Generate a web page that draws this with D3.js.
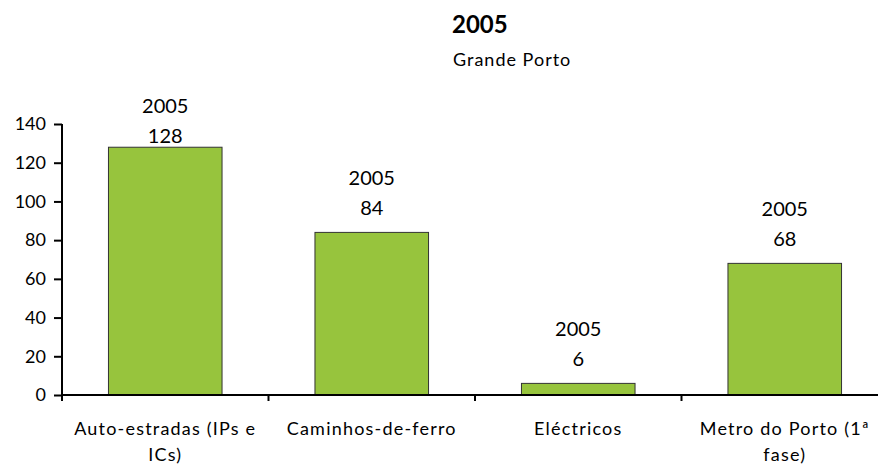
<!DOCTYPE html>
<html>
<head>
<meta charset="utf-8">
<script src="https://cdn.jsdelivr.net/npm/d3@7"></script>
<style>
  html, body { margin: 0; padding: 0; background: #fff; }
  svg { display: block; font-family: Lato, "Open Sans", sans-serif; }
</style>
</head>
<body>
<svg id="chart" width="878" height="466"></svg>
<script>
// Extensão das redes de transporte, Grande Porto, 2005
const categories = ["Auto-estradas (IPs e ICs)", "Caminhos-de-ferro", "Eléctricos", "Metro do Porto (1ª fase)"];
const values = [128, 84, 6, 68];
const seriesName = "2005";
const yTicks = [0, 20, 40, 60, 80, 100, 120, 140];
const title = "2005";
const subtitle = "Grande Porto";

const svg = d3.select("#chart");
const plotLeft = 62, plotRight = 888, plotTop = 124, plotBottom = 395;

const x = d3.scaleBand().domain(categories).range([plotLeft, plotRight])
  .paddingInner(0.45).paddingOuter(0.225);
const y = d3.scaleLinear().domain([0, 140]).range([plotBottom, plotTop]);

// title block
svg.append("text").attr("x", 452).attr("y", 33)
  .attr("font-size", 24).attr("font-weight", "bold").attr("fill", "#000")
  .text(title);
svg.append("text").attr("x", 453).attr("y", 66)
  .attr("font-size", 18).attr("letter-spacing", 1).attr("fill", "#000")
  .text(subtitle);

// bars
svg.append("g").selectAll("rect").data(values).join("rect")
  .attr("x", (d, i) => x(categories[i]))
  .attr("y", d => y(d))
  .attr("width", x.bandwidth())
  .attr("height", d => y(0) - y(d))
  .attr("fill", "#97c43d")
  .attr("stroke", "#333")
  .attr("stroke-width", 1);

// value labels: series name above value, kept inside the plot area
const labels = svg.append("g").attr("font-size", 20).attr("fill", "#000").attr("text-anchor", "middle");
values.forEach((v, i) => {
  const cx = x(categories[i]) + x.bandwidth() / 2;
  const base = Math.max(y(v) - 17, y(140) + 19);
  labels.append("text").attr("x", cx).attr("y", base).text(v);
  labels.append("text").attr("x", cx).attr("y", base - 30).text(seriesName);
});

// y axis
const yAxis = svg.append("g").attr("transform", `translate(${plotLeft},0)`)
  .call(d3.axisLeft(y).tickValues(yTicks).tickSize(8).tickPadding(8));
yAxis.select(".domain").attr("stroke", "#000").attr("stroke-width", 2)
  .attr("d", `M0,${plotTop}V${plotBottom + 6}`);
yAxis.selectAll(".tick line").attr("stroke", "#000").attr("stroke-width", 2);
yAxis.selectAll(".tick text").attr("font-size", 18).attr("font-family", "Lato, sans-serif").attr("fill", "#000");

// x axis: boundaries between categories get ticks
const xg = svg.append("g").attr("transform", `translate(0,${plotBottom})`);
xg.append("line").attr("x1", plotLeft).attr("x2", plotRight).attr("stroke", "#000").attr("stroke-width", 2);
const bounds = categories.map(c => x(c) - x.step() * x.paddingInner() / 2).concat([plotRight]);
xg.selectAll("line.tk").data(bounds).join("line").attr("class", "tk")
  .attr("x1", d => d).attr("x2", d => d).attr("y1", 0).attr("y2", 6)
  .attr("stroke", "#000").attr("stroke-width", 2);

// category labels, wrapped to fit the band
const maxW = 190;
categories.forEach(c => {
  const cx = x(c) + x.bandwidth() / 2;
  const t = xg.append("text").attr("x", cx).attr("y", 40)
    .attr("text-anchor", "middle").attr("font-size", 18)
    .attr("letter-spacing", 1.2).attr("fill", "#000");
  const words = c.split(" ");
  let line = [];
  let tspan = t.append("tspan").attr("x", cx).attr("dy", 0);
  words.forEach(w => {
    line.push(w);
    tspan.text(line.join(" "));
    if (tspan.node().getComputedTextLength() > maxW && line.length > 1) {
      line.pop();
      tspan.text(line.join(" "));
      line = [w];
      tspan = t.append("tspan").attr("x", cx).attr("dy", 26).text(w);
    }
  });
});
</script>
</body>
</html>
